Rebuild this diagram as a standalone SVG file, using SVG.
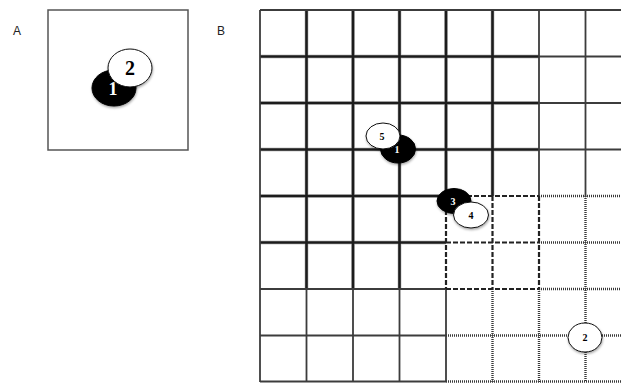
<svg xmlns="http://www.w3.org/2000/svg" width="621" height="383" viewBox="0 0 621 383">
<defs>
<filter id="sh" x="-30%" y="-30%" width="160%" height="170%">
<feDropShadow dx="0.5" dy="1.5" stdDeviation="1.2" flood-color="#000" flood-opacity="0.35"/>
</filter>
<style>
.lbl{font-family:"Liberation Sans",Arial,sans-serif;font-size:12px;fill:#222}
.num{font-family:"Liberation Serif","Times New Roman",serif;font-weight:bold;text-anchor:middle}
.thick{stroke:#1c1c1c;stroke-width:2.6;fill:none}
.halo{stroke:#9a9a9a;stroke-width:4;fill:none;opacity:0.5}
.thin{stroke:#3c3c3c;stroke-width:1.8;fill:none}
.dot{stroke:#3a3a3a;stroke-width:2.4;stroke-dasharray:1 1;fill:none}
.dash{stroke:#222;stroke-width:2.2;stroke-dasharray:5 2;fill:none}
.wc{fill:#fff;stroke:#111;stroke-width:1}
.bc{fill:#000;stroke:#000;stroke-width:1}
</style>
</defs>
<rect width="621" height="383" fill="#fff"/>
<text class="lbl" x="13" y="35">A</text>
<text class="lbl" x="217" y="35">B</text>
<g id="panelA">
<rect x="48" y="10" width="140" height="140" fill="none" stroke="#555" stroke-width="1.5"/>
</g>
<g id="gridB">
<g class="halo">
<path d="M306.5 10V289M353 10V289M399.5 10V289M446 10V196M492.5 10V196M260 56.5H539M260 103H539M260 149.5H539M260 196H446M260 242.5H446"/>
</g>
<g class="thick">
<path d="M306.5 10V289M353 10V289M399.5 10V289M446 10V196M492.5 10V196M260 56.5H539M260 103H539M260 149.5H539M260 196H446M260 242.5H446"/>
</g>
<g class="thin">
<path d="M260 10H621M260 10V382M539 10V196M585.5 10V196M539 56.5H621M539 103H621M539 149.5H621M260 289H446M260 335.5H446M260 381.5H446M306.5 289V382M353 289V382M399.5 289V382M446 289V382"/>
</g>
<g class="dot">
<path d="M539 196H621M539 242.5H621M539 289H621M446 335.5H621M446 381.5H621M585.5 196V382M539 289V382M492.5 289V382"/>
</g>
<g class="dash">
<path d="M446 196H539M446 196V289M492.5 196V289M539 196V289M446 242.5H539M446 289H539"/>
</g>
</g>
<g id="nodeA1"><ellipse class="bc" cx="114" cy="88" rx="22" ry="18" filter="url(#sh)"/><text class="num" x="113" y="95" font-size="18" fill="#fff">1</text></g>
<g id="nodeA2"><ellipse class="wc" cx="130" cy="68" rx="22" ry="19" filter="url(#sh)"/><text class="num" x="130" y="75" font-size="20" fill="#000">2</text></g>
<g id="nodeB1"><ellipse class="bc" cx="398" cy="149" rx="17.5" ry="14" filter="url(#sh)"/><text class="num" x="397" y="153" font-size="10" fill="#fff">1</text></g>
<g id="nodeB5"><ellipse class="wc" cx="383" cy="136" rx="17" ry="13" filter="url(#sh)"/><text class="num" x="382" y="140" font-size="10" fill="#000">5</text></g>
<g id="nodeB3"><ellipse class="bc" cx="454" cy="201" rx="17" ry="12.5" filter="url(#sh)"/><text class="num" x="453" y="205" font-size="10" fill="#fff">3</text></g>
<g id="nodeB4"><ellipse class="wc" cx="471" cy="215" rx="17.5" ry="13" filter="url(#sh)"/><text class="num" x="471" y="219" font-size="10" fill="#000">4</text></g>
<g id="nodeB2"><ellipse class="wc" cx="585" cy="337.5" rx="17" ry="14.5" filter="url(#sh)"/><text class="num" x="585" y="341" font-size="10" fill="#000">2</text></g>
</svg>
